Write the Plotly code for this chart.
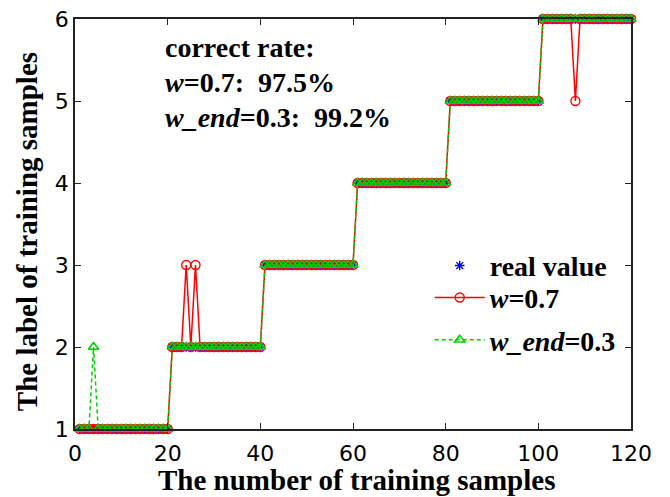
import plotly.graph_objects as go

# sample index 1..120
samples = list(range(1, 121))

# true class label of each training sample
real_value = [
    1, 1, 1, 1, 1, 1, 1, 1, 1, 1, 1, 1, 1, 1, 1, 1, 1, 1, 1, 1,
    2, 2, 2, 2, 2, 2, 2, 2, 2, 2, 2, 2, 2, 2, 2, 2, 2, 2, 2, 2,
    3, 3, 3, 3, 3, 3, 3, 3, 3, 3, 3, 3, 3, 3, 3, 3, 3, 3, 3, 3,
    4, 4, 4, 4, 4, 4, 4, 4, 4, 4, 4, 4, 4, 4, 4, 4, 4, 4, 4, 4,
    5, 5, 5, 5, 5, 5, 5, 5, 5, 5, 5, 5, 5, 5, 5, 5, 5, 5, 5, 5,
    6, 6, 6, 6, 6, 6, 6, 6, 6, 6, 6, 6, 6, 6, 6, 6, 6, 6, 6, 6,
]

# predicted labels with w = 0.7 (errors at samples 24, 26, 108)
pred_w07 = [
    1, 1, 1, 1, 1, 1, 1, 1, 1, 1, 1, 1, 1, 1, 1, 1, 1, 1, 1, 1,
    2, 2, 2, 3, 2, 3, 2, 2, 2, 2, 2, 2, 2, 2, 2, 2, 2, 2, 2, 2,
    3, 3, 3, 3, 3, 3, 3, 3, 3, 3, 3, 3, 3, 3, 3, 3, 3, 3, 3, 3,
    4, 4, 4, 4, 4, 4, 4, 4, 4, 4, 4, 4, 4, 4, 4, 4, 4, 4, 4, 4,
    5, 5, 5, 5, 5, 5, 5, 5, 5, 5, 5, 5, 5, 5, 5, 5, 5, 5, 5, 5,
    6, 6, 6, 6, 6, 6, 6, 5, 6, 6, 6, 6, 6, 6, 6, 6, 6, 6, 6, 6,
]

# predicted labels with w_end = 0.3 (error at sample 4)
pred_wend03 = [
    1, 1, 1, 2, 1, 1, 1, 1, 1, 1, 1, 1, 1, 1, 1, 1, 1, 1, 1, 1,
    2, 2, 2, 2, 2, 2, 2, 2, 2, 2, 2, 2, 2, 2, 2, 2, 2, 2, 2, 2,
    3, 3, 3, 3, 3, 3, 3, 3, 3, 3, 3, 3, 3, 3, 3, 3, 3, 3, 3, 3,
    4, 4, 4, 4, 4, 4, 4, 4, 4, 4, 4, 4, 4, 4, 4, 4, 4, 4, 4, 4,
    5, 5, 5, 5, 5, 5, 5, 5, 5, 5, 5, 5, 5, 5, 5, 5, 5, 5, 5, 5,
    6, 6, 6, 6, 6, 6, 6, 6, 6, 6, 6, 6, 6, 6, 6, 6, 6, 6, 6, 6,
]

rate_lines = [
    "correct rate:",
    "<i>w</i>=0.7:&nbsp;&nbsp;97.5%",
    "<i>w_end</i>=0.3:&nbsp;&nbsp;99.2%",
]
rate_y = [5.65, 5.22, 4.80]

x_title = "The number of training samples"
y_title = "The label of training samples"

x_ticks = [0, 20, 40, 60, 80, 100, 120]
y_ticks = [1, 2, 3, 4, 5, 6]

SERIF = "Liberation Serif"
SANS = "DejaVu Sans"
GREEN = "#00d000"

fig = go.Figure()

fig.add_trace(go.Scatter(
    x=samples, y=real_value, mode="markers", name="real value",
    legend="legend",
    marker=dict(symbol="asterisk-open", size=8, color="#0000ff",
                line=dict(color="#0000ff", width=1.4)),
    cliponaxis=False,
))
fig.add_trace(go.Scatter(
    x=samples, y=pred_w07, mode="lines+markers", name="<i>w</i>=0.7",
    legend="legend2",
    line=dict(color="#ff0000", width=1.5),
    marker=dict(symbol="circle-open", size=9, color="#ff0000",
                line=dict(color="#ff0000", width=1.4)),
    cliponaxis=False,
))
fig.add_trace(go.Scatter(
    x=samples, y=pred_wend03, mode="lines+markers", name="<i>w_end</i>=0.3",
    legend="legend3",
    line=dict(color=GREEN, width=1.5, dash="4px,3px"),
    marker=dict(symbol="triangle-up-open", size=9, color=GREEN,
                line=dict(color=GREEN, width=1.6)),
    cliponaxis=False,
))

# correct-rate text block inside the axes
for txt, yy in zip(rate_lines, rate_y):
    fig.add_annotation(
        x=19.0, y=yy, xref="x", yref="y", text=txt, showarrow=False,
        xanchor="left", yanchor="middle",
        font=dict(family=SERIF, size=28, color="black", weight="bold"),
    )

title_font = dict(family=SERIF, size=29, color="black", weight="bold")
# axis titles placed as paper annotations
fig.add_annotation(x=0.507, y=-0.1244, xref="paper", yref="paper",
                   text=x_title, showarrow=False, xanchor="center",
                   yanchor="middle", font=title_font)
fig.add_annotation(x=-0.0863, y=0.480, xref="paper", yref="paper",
                   text=y_title, showarrow=False, textangle=-90,
                   xanchor="center", yanchor="middle", font=title_font)

axis_common = dict(
    showgrid=False, zeroline=False, showline=True, linecolor="#222222",
    linewidth=1.6, mirror="ticks", ticks="inside", ticklen=6,
    tickcolor="#222222", tickwidth=1.3, automargin=False,
    tickfont=dict(family=SANS, size=22, color="black"),
)

legend_font = dict(family=SERIF, size=28, color="black", weight="bold")
legend_common = dict(xanchor="left", yanchor="middle", x=0.638,
                     bgcolor="rgba(0,0,0,0)", itemwidth=50, font=legend_font)

fig.update_layout(
    width=670, height=497,
    margin=dict(l=75, r=39, t=19, b=68, autoexpand=False),
    paper_bgcolor="white", plot_bgcolor="white",
    xaxis=dict(range=[0, 120], tickvals=x_ticks, ticklabelstandoff=4,
               **axis_common),
    yaxis=dict(range=[1, 6], tickvals=y_ticks, **axis_common),
    legend=dict(y=0.398, **legend_common),
    legend2=dict(y=0.320, **legend_common),
    legend3=dict(y=0.217, **legend_common),
    showlegend=True,
)

fig.write_html("out.html")
